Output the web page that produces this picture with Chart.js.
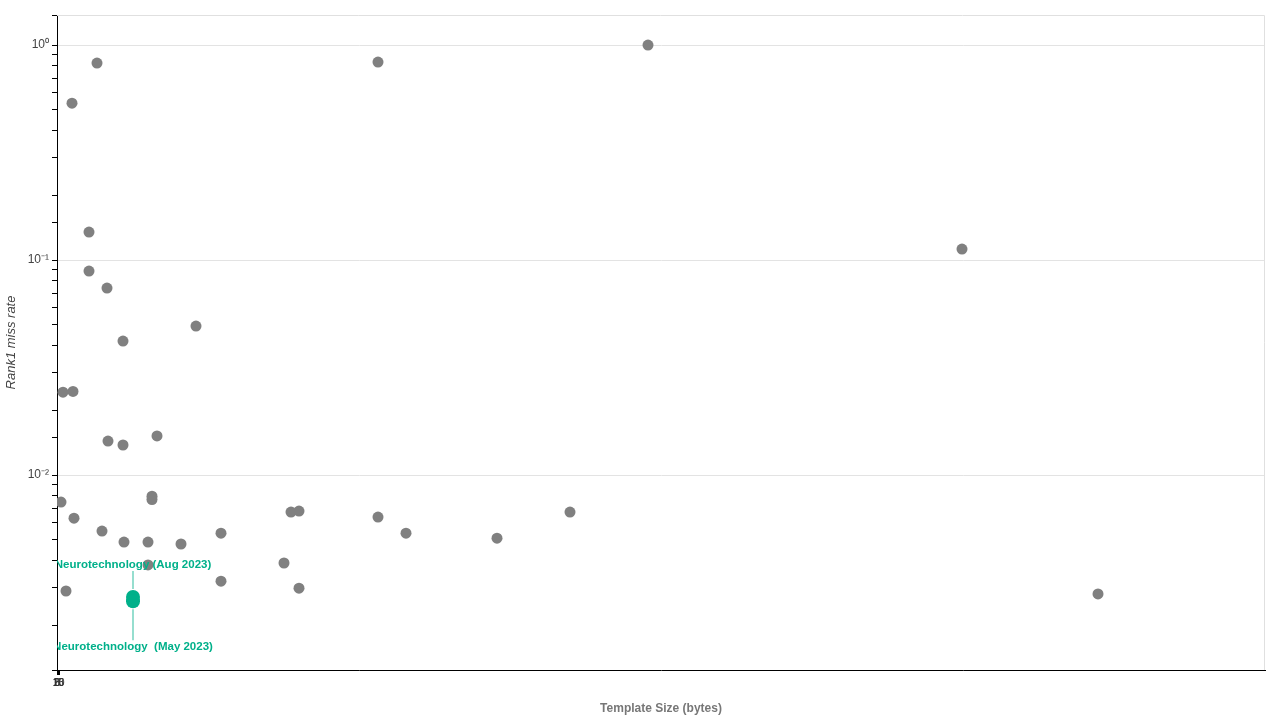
<!DOCTYPE html>
<html>
<head>
<meta charset="utf-8">
<script src="https://cdn.jsdelivr.net/npm/chart.js@4.4.1/dist/chart.umd.min.js"></script>
<style>
  html, body { margin: 0; padding: 0; background: #fff; }
  #wrap { width: 1280px; height: 720px; position: relative; }
</style>
</head>
<body>
<div id="wrap"><canvas id="chart" width="1280" height="720"></canvas></div>
<script>

// ---------------- DATA ----------------

// template sizes (bytes) of the other algorithms
const sizes = [80, 30, 642, 1182, 64, 64, 100, 1810, 278, 132, 12, 32, 102, 132, 200,
               8, 190, 190, 34, 90, 134, 182, 248, 328, 182, 18, 328, 468, 484, 454,
               484, 642, 698, 880, 1026, 2082];

// rank1 miss rate of the other algorithms
const missRates = [0.825, 0.537, 0.834, 1.0, 0.135, 0.0889, 0.0741, 0.1125, 0.0493, 0.042, 0.0243, 0.0245, 0.0144, 0.0138, 0.0152,
                   0.00749, 0.00798, 0.0077, 0.0063, 0.00549, 0.00488, 0.00488, 0.00478, 0.00537, 0.00382, 0.00289, 0.00321, 0.00673, 0.0068, 0.0039,
                   0.00298, 0.00638, 0.00537, 0.00509, 0.00673, 0.0028];

// highlighted algorithm
const highlightNames = ["Neurotechnology (Aug 2023)", "Neurotechnology  (May 2023)"];
const highlightSizes = [152, 152];
const highlightRates = [0.00271, 0.00259];
const highlightSide = ["above", "below"];

// x tick labels are all piled up at the origin in the original
const xTickValues = [0, 1, 2, 3, 4];
const xTickLabels = ["0", "5", "10", "15", "20"];
const yMin = 0.00124;
const yMax = 1.38;

const GREY = "#808080";
const GREEN = "#00b08a";

// ---------------- PLUGINS ----------------

const labelPlugin = {
    id: "highlightLabels",
    afterDatasetsDraw(chart) {
        const ctx = chart.ctx;
        const xs = chart.scales.x;
        const ys = chart.scales.y;
        const area = chart.chartArea;

        ctx.save();
        ctx.beginPath();
        ctx.rect(area.left, area.top, area.right - area.left, area.bottom - area.top);
        ctx.clip();

        highlightNames.forEach((name, i) => {
            const px = xs.getPixelForValue(highlightSizes[i]);
            const py = ys.getPixelForValue(highlightRates[i]);
            const up = highlightSide[i] === "above";

            ctx.strokeStyle = "rgba(0,176,138,0.55)";
            ctx.lineWidth = 1.5;
            ctx.beginPath();
            if (up) {
                ctx.moveTo(px, py - 8);
                ctx.lineTo(px, py - 26);
            } else {
                ctx.moveTo(px, py + 8);
                ctx.lineTo(px, py + 39);
            }
            ctx.stroke();

            ctx.fillStyle = GREEN;
            ctx.font = "bold 11.5px Arial, 'Liberation Sans', sans-serif";
            ctx.textAlign = "center";
            ctx.textBaseline = "middle";
            ctx.fillText(name, px, up ? py - 32 : py + 46);
        });

        ctx.restore();
    }
};

const framePlugin = {
    id: "frame",
    beforeDatasetsDraw(chart) {
        const ctx = chart.ctx;
        const a = chart.chartArea;
        ctx.save();
        ctx.strokeStyle = "#e0e0e0";
        ctx.lineWidth = 1;
        ctx.beginPath();
        ctx.moveTo(a.left, a.top + 0.5);
        ctx.lineTo(a.right - 0.5, a.top + 0.5);
        ctx.lineTo(a.right - 0.5, a.bottom);
        ctx.stroke();
        ctx.restore();
    }
};

// ---------------- CHART ----------------

const isMajor = v => Math.abs(Math.log10(v) - Math.round(Math.log10(v))) < 1e-9;
const sup = { "-": "\u207B", "0": "\u2070", "1": "\u00B9", "2": "\u00B2", "3": "\u00B3" };

new Chart(document.getElementById("chart"), {

    type: "scatter",

    data: {
        datasets: [
            {
                label: "Others",
                data: sizes.map((s, i) => ({ x: s, y: missRates[i] })),
                backgroundColor: GREY,
                borderWidth: 0,
                pointRadius: 5.5,
                pointHoverRadius: 5.5
            },
            {
                label: "Neurotechnology",
                data: highlightSizes.map((s, i) => ({ x: s, y: highlightRates[i] })),
                backgroundColor: GREEN,
                borderWidth: 0,
                pointRadius: 7,
                pointHoverRadius: 7
            }
        ]
    },

    options: {
        responsive: false,
        animation: false,
        layout: { padding: { top: 15, right: 15 } },
        plugins: {
            legend: { display: false },
            tooltip: { enabled: false }
        },
        scales: {
            x: {
                type: "linear",
                min: 0,
                max: 2416,
                afterBuildTicks: scale => {
                    scale.ticks = xTickValues.map(v => ({ value: v }));
                },
                afterFit: scale => { scale.height = 50; },
                border: { color: "#000", width: 1 },
                grid: { display: true, drawOnChartArea: false, color: "#000", tickLength: 5 },
                ticks: {
                    color: "#333",
                    autoSkip: false,
                    maxRotation: 0,
                    padding: 2,
                    font: { size: 10, family: "Arial, 'Liberation Sans', sans-serif" },
                    callback: (v, i) => xTickLabels[i]
                },
                title: {
                    display: true,
                    text: "Template Size (bytes)",
                    color: "#777",
                    padding: { top: 10 },
                    font: { size: 12, weight: "bold", family: "Arial, 'Liberation Sans', sans-serif" }
                }
            },
            y: {
                type: "logarithmic",
                min: yMin,
                max: yMax,
                afterFit: scale => { scale.width = 57; },
                border: { color: "#000", width: 1 },
                grid: {
                    color: c => (c.tick && isMajor(c.tick.value)) ? "#e3e3e3" : "rgba(0,0,0,0)",
                    tickColor: "#000",
                    tickLength: 5
                },
                ticks: {
                    color: "#444",
                    autoSkip: false,
                    padding: 3,
                    font: { size: 12, family: "Arial, 'Liberation Sans', sans-serif" },
                    callback: v => {
                        if (!isMajor(v)) return "";
                        const e = String(Math.round(Math.log10(v)));
                        return "10" + e.split("").map(ch => sup[ch]).join("");
                    }
                },
                title: {
                    display: true,
                    text: "Rank1 miss rate",
                    color: "#444",
                    padding: { bottom: 2 },
                    font: { size: 13, style: "italic", family: "Arial, 'Liberation Sans', sans-serif" }
                }
            }
        }
    },

    plugins: [framePlugin, labelPlugin]

});

</script>
</body>
</html>
